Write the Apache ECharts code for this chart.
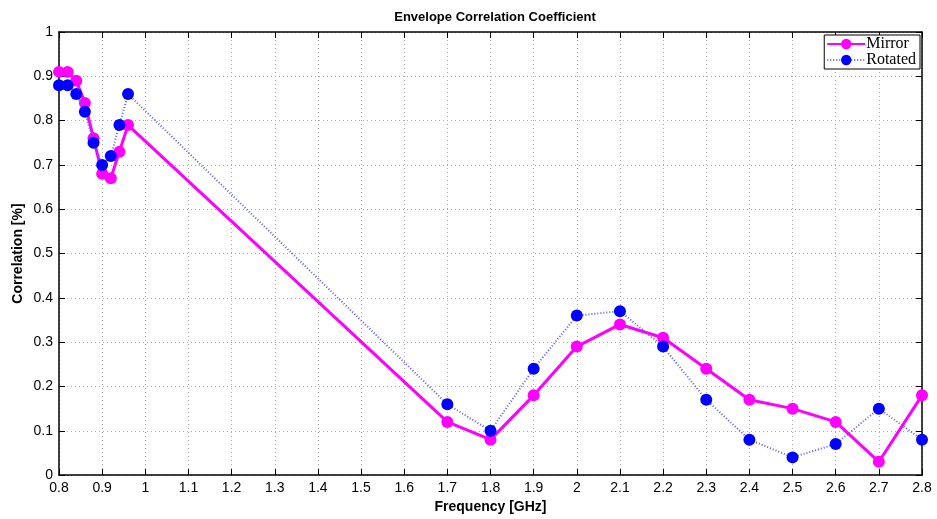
<!DOCTYPE html>
<html>
<head>
<meta charset="utf-8">
<script src="https://cdn.jsdelivr.net/npm/echarts@6/dist/echarts.min.js"></script>
<style>
    html, body { margin: 0; padding: 0; background: #fff; }
    #main { width: 937px; height: 519px; }
</style>
</head>
<body>
<div id="main"></div>
<script>
    // frequencies [GHz]
    var freq = [0.80, 0.82, 0.84, 0.86, 0.88, 0.90, 0.92, 0.94, 0.96,
                1.7, 1.8, 1.9, 2.0, 2.1, 2.2, 2.3, 2.4, 2.5, 2.6, 2.7, 2.8];
    var mirror = [0.91, 0.91, 0.89, 0.84, 0.76, 0.68, 0.67, 0.73, 0.79,
                  0.12, 0.08, 0.18, 0.29, 0.34, 0.31, 0.24, 0.17, 0.15, 0.12, 0.03, 0.18];
    var rotated = [0.88, 0.88, 0.86, 0.82, 0.75, 0.70, 0.72, 0.79, 0.86,
                   0.16, 0.10, 0.24, 0.36, 0.37, 0.29, 0.17, 0.08, 0.04, 0.07, 0.15, 0.08];

    function pairs(xs, ys) {
        var out = [];
        for (var i = 0; i < xs.length; i++) out.push([xs[i], ys[i]]);
        return out;
    }

    var tickFont = { fontFamily: 'Liberation Sans', fontSize: 14, color: '#000' };

    var myChart = echarts.init(document.getElementById('main'));
    var option = {
        animation: false,
        title: {
            text: 'Envelope Correlation Coefficient',
            left: 490, top: 6, textAlign: 'center',
            textStyle: { fontFamily: 'Liberation Sans', fontSize: 13, fontWeight: 'bold', color: '#000' }
        },
        legend: {
            right: 17, top: 35,
            orient: 'vertical',
            itemGap: 0,
            itemWidth: 38, itemHeight: 13,
            padding: [1, 4, 1, 2],
            borderColor: '#000', borderWidth: 1, backgroundColor: '#fff',
            textStyle: { fontFamily: 'Liberation Serif', fontSize: 16, color: '#000', padding: [0, 0, 0, -4] },
            data: ['Mirror', 'Rotated']
        },
        grid: { left: 59, right: 15, top: 32, bottom: 41 },
        xAxis: [{
            type: 'value', min: 0.8, max: 2.8, interval: 0.1,
            name: 'Frequency [GHz]', nameLocation: 'middle', nameGap: 22,
            nameTextStyle: { fontFamily: 'Liberation Sans', fontSize: 14, fontWeight: 'bold', color: '#000' },
            axisLine: { lineStyle: { color: '#000', width: 1.5 } },
            axisTick: { inside: true, length: 6, lineStyle: { color: '#000' } },
            axisLabel: Object.assign({ margin: 6 }, tickFont),
            splitLine: { show: true, lineStyle: { color: '#aaa', type: [1, 3] } }
        }, {
            type: 'value', min: 0.8, max: 2.8, interval: 0.1, position: 'top',
            axisLine: { onZero: false, lineStyle: { color: '#000', width: 1.5 } },
            axisTick: { inside: true, length: 6, lineStyle: { color: '#000' } },
            axisLabel: { show: false },
            splitLine: { show: false }
        }],
        yAxis: [{
            type: 'value', min: 0, max: 1, interval: 0.1,
            name: 'Correlation [%]', nameLocation: 'middle', nameGap: 34,
            nameMoveOverlap: false,
            nameTextStyle: { fontFamily: 'Liberation Sans', fontSize: 14, fontWeight: 'bold', color: '#000' },
            axisLine: { show: true, lineStyle: { color: '#000', width: 1.5 } },
            axisTick: { show: true, inside: true, length: 6, lineStyle: { color: '#000' } },
            axisLabel: Object.assign({ margin: 6 }, tickFont),
            splitLine: { show: true, lineStyle: { color: '#aaa', type: [1, 3] } }
        }, {
            type: 'value', min: 0, max: 1, interval: 0.1, position: 'right',
            axisLine: { show: true, onZero: false, lineStyle: { color: '#000', width: 1.5 } },
            axisTick: { show: true, inside: true, length: 6, lineStyle: { color: '#000' } },
            axisLabel: { show: false },
            splitLine: { show: false }
        }],
        series: [{
            name: 'Mirror', type: 'line',
            data: pairs(freq, mirror),
            symbol: 'circle', symbolSize: 12,
            itemStyle: { color: '#ff00ff' },
            lineStyle: { color: '#ff00ff', width: 3 },
            z: 3
        }, {
            name: 'Rotated', type: 'line',
            data: pairs(freq, rotated),
            symbol: 'circle', symbolSize: 12,
            itemStyle: { color: '#0000ff' },
            lineStyle: { color: '#5c5cff', width: 2, type: [1, 2] },
            z: 4
        }]
    };
    myChart.setOption(option);
</script>
</body>
</html>
